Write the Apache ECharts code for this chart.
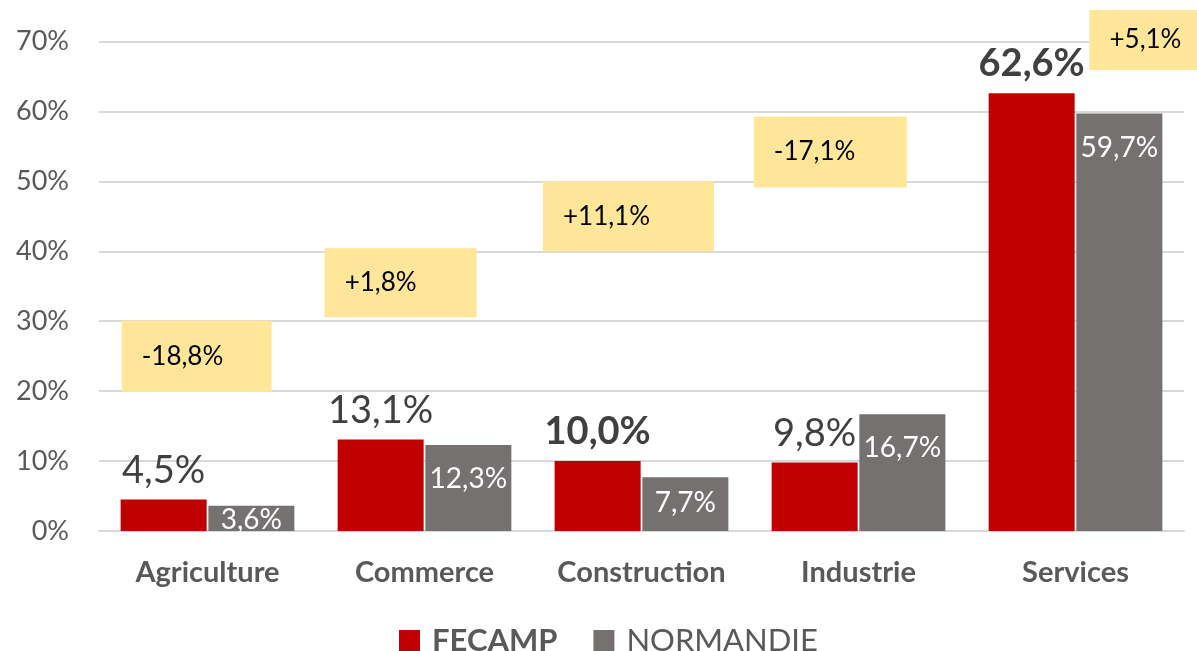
<!DOCTYPE html>
<html>
<head>
<meta charset="utf-8">
<script src="https://cdn.jsdelivr.net/npm/echarts@6/dist/echarts.min.js"></script>
<style>
  html, body { margin: 0; padding: 0; background: #fff; }
  #chart { width: 1197px; height: 651px; }
</style>
</head>
<body>
<div id="chart"></div>
<script>
// categories and values
var categories = ['Agriculture', 'Commerce', 'Construction', 'Industrie', 'Services'];
var fecamp = [4.5, 13.1, 10.0, 9.8, 62.6];
var normandie = [3.6, 12.3, 7.7, 16.7, 59.7];
var boldFecamp = [false, false, true, false, true];
var yTicks = [0, 10, 20, 30, 40, 50, 60, 70];

// yellow annotation boxes (difference FECAMP vs NORMANDIE)
var diffLabels = ['-18,8%', '+1,8%', '+11,1%', '-17,1%', '+5,1%'];
var diffX = [0.45, 1.39, 2.44, 3.37, 4.91];
var diffY = [25.0, 35.5, 45.0, 54.2, 70.2];
var diffBox = [[150, 71], [152, 69], [171, 70], [153, 71], [150, 60]];

var normLabelDist = [0, 20, 12, 20, 20];

var FONT = 'Lato, "Open Sans", sans-serif';

function fmt(v) {
	return v.toFixed(1).replace('.', ',') + '%';
}

var chart = echarts.init(document.getElementById('chart'));

var fecampData = fecamp.map(function (v, i) {
	return {
		value: v,
		label: { fontWeight: boldFecamp[i] ? 'bold' : 'normal' }
	};
});

var normData = normandie.map(function (v, i) {
	return {
		value: v,
		label: { distance: normLabelDist[i] }
	};
});

var diffData = diffLabels.map(function (t, i) {
	return {
		value: [diffX[i], diffY[i]],
		name: t,
		symbolSize: diffBox[i]
	};
});

var option = {
	backgroundColor: '#ffffff',
	animation: false,
	textStyle: { fontFamily: FONT },
	grid: { left: 99, right: 13, top: 41.5, bottom: 120, containLabel: false },
	legend: {
		data: ['FECAMP', 'NORMANDIE'],
		left: 394,
		top: 620,
		icon: 'rect',
		itemWidth: 21,
		itemHeight: 21,
		itemGap: 36,
		formatter: function (name) {
			return name === 'FECAMP' ? '{b|' + name + '}' : '{n|' + name + '}';
		},
		textStyle: {
			color: '#595959',
			fontFamily: FONT,
			rich: {
				b: { fontSize: 31, fontWeight: 'bold', color: '#595959', fontFamily: FONT, padding: [0, 0, 0, 7] },
				n: { fontSize: 31, color: '#595959', fontFamily: FONT, padding: [0, 0, 0, 7] }
			}
		}
	},
	xAxis: [
		{
			type: 'category',
			data: categories,
			axisTick: { show: false },
			axisLine: { lineStyle: { color: '#D9D9D9', width: 2 } },
			axisLabel: {
				interval: 0,
				color: '#595959',
				fontSize: 29,
				fontWeight: 'bold',
				fontFamily: FONT,
				margin: 27
			}
		},
		{
			type: 'value',
			min: 0,
			max: 5,
			show: false
		}
	],
	yAxis: {
		type: 'value',
		min: yTicks[0],
		max: yTicks[yTicks.length - 1],
		interval: 10,
		axisLine: { show: false },
		axisTick: { show: false },
		splitLine: { lineStyle: { color: '#D9D9D9', width: 2 } },
		axisLabel: {
			formatter: '{value}%',
			color: '#595959',
			fontSize: 27,
			fontFamily: FONT,
			margin: 30
		}
	},
	series: [
		{
			name: 'FECAMP',
			type: 'bar',
			xAxisIndex: 0,
			data: fecampData,
			barWidth: 86,
			barGap: '2%',
			itemStyle: { color: '#C00000' },
			label: {
				show: true,
				position: 'top',
				distance: 10,
				color: '#404040',
				fontSize: 38,
				fontFamily: FONT,
				formatter: function (p) { return fmt(p.value); }
			},
			z: 3
		},
		{
			name: 'NORMANDIE',
			type: 'bar',
			xAxisIndex: 0,
			data: normData,
			barWidth: 86,
			barGap: '2%',
			itemStyle: { color: '#767171' },
			label: {
				show: true,
				position: 'insideTop',
				color: '#ffffff',
				fontSize: 28,
				fontFamily: FONT,
				formatter: function (p) { return fmt(p.value); }
			},
			z: 3
		},
		{
			name: 'diff',
			type: 'scatter',
			xAxisIndex: 1,
			yAxisIndex: 0,
			symbol: 'rect',
			clip: false,
			data: diffData,
			itemStyle: { color: '#FFE699', opacity: 1 },
			label: {
				show: true,
				position: [20, '50%'],
				align: 'left',
				verticalAlign: 'middle',
				color: '#000000',
				fontSize: 26,
				fontFamily: FONT,
				formatter: function (p) { return p.name; }
			},
			emphasis: { disabled: true },
			z: 2
		}
	]
};

chart.setOption(option);
window.addEventListener('resize', chart.resize);
</script>
</body>
</html>
